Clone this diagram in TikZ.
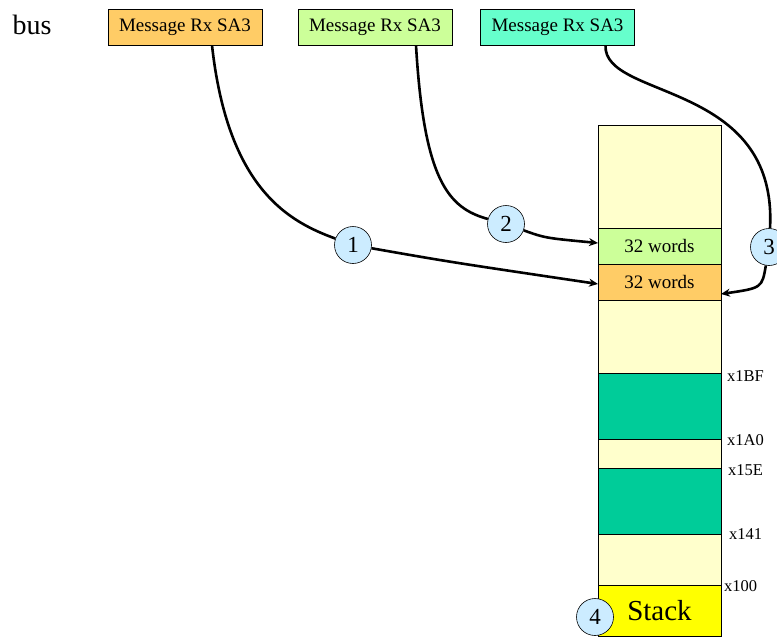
\documentclass[tikz,border=0pt]{standalone}
\usepackage{fontspec}
\setmainfont{Liberation Serif}
\usetikzlibrary{positioning}
\usetikzlibrary{arrows.meta}

\definecolor{rxorange}{HTML}{FFCC66}
\definecolor{rxgreen}{HTML}{CCFF99}
\definecolor{rxteal}{HTML}{66FFCC}
\definecolor{memfree}{HTML}{FFFFCC}
\definecolor{memused}{HTML}{00CC99}
\definecolor{stackyellow}{HTML}{FFFF00}
\definecolor{stepblue}{HTML}{CCECFF}

\tikzset{
msgbox/.style={draw, line width=0.6pt, minimum width=154pt, minimum height=36pt,
  inner sep=0pt, font=\fontsize{19}{19}\selectfont},
seg/.style={draw, line width=0.6pt, minimum width=123pt, inner sep=0pt, outer sep=0pt},
addr/.style={anchor=west, inner sep=0pt, font=\fontsize{16.5}{16.5}\selectfont},
stepnum/.style={circle, draw, line width=0.6pt, fill=stepblue, minimum size=37pt,
  inner sep=0pt, font=\fontsize{23}{23}\selectfont},
flow/.style={line width=2.6pt, -{Stealth[length=9pt,width=8pt]}},
flowplain/.style={line width=2.6pt}
}

\begin{document}
\begin{tikzpicture}[x=1pt,y=-1pt]
\useasboundingbox (0,0) rectangle (777,637);

% bus messages
\node[font=\fontsize{28}{28}\selectfont] (bus) at (32,25) {bus};
\node[msgbox, fill=rxorange] (rx1) at (185,27) {Message Rx SA3};
\node[msgbox, fill=rxgreen] (rx2) at (375,27) {Message Rx SA3};
\node[msgbox, fill=rxteal] (rx3) at (557.5,27) {Message Rx SA3};

% memory map
\node[seg, fill=memfree, minimum height=103pt, anchor=north west] (m1) at (598,125) {};
\node[seg, fill=rxgreen, minimum height=36pt, below=0pt of m1,
  font=\fontsize{19}{19}\selectfont] (w1) {32 words};
\node[seg, fill=rxorange, minimum height=36pt, below=0pt of w1,
  font=\fontsize{19}{19}\selectfont] (w2) {32 words};
\node[seg, fill=memfree, minimum height=73pt, below=0pt of w2] (m2) {};
\node[seg, fill=memused, minimum height=66pt, below=0pt of m2] (t1) {};
\node[seg, fill=memfree, minimum height=29pt, below=0pt of t1] (m3) {};
\node[seg, fill=memused, minimum height=66pt, below=0pt of m3] (t2) {};
\node[seg, fill=memfree, minimum height=51pt, below=0pt of t2] (m4) {};
\node[seg, fill=stackyellow, minimum height=51pt, below=0pt of m4,
  font=\fontsize{29}{29}\selectfont] (st) {Stack};

% addresses
\node[addr] (a1) at (727,376) {x1BF};
\node[addr] (a2) at (727,440) {x1A0};
\node[addr] (a3) at (728,470) {x15E};
\node[addr] (a4) at (729,534) {x141};
\node[addr] (a5) at (724,586) {x100};

% steps
\node[stepnum] (c1) at (353,245) {1};
\node[stepnum] (c2) at (506,224) {2};
\node[stepnum] (c3) at (769,247) {3};

\draw[flowplain] ([xshift=27pt]rx1.south) .. controls (228,190) and (290,222) .. (c1);
\draw[flow] (c1) .. controls (450,262) .. ([yshift=-2pt]w2.west);
\draw[flowplain] ([xshift=41pt]rx2.south) .. controls (424,180) and (448,208) .. (c2);
\draw[flow] (c2) .. controls (545,238) .. ([yshift=3pt]w1.west);
\draw[flowplain] ([xshift=48pt]rx3.south) .. controls (603,100) and (778,80) .. (c3);
\draw[flow] (c3) .. controls (762,288) .. ([yshift=-12pt]w2.east);

\node[stepnum] (c4) at (595,617) {4};
\end{tikzpicture}
\end{document}
